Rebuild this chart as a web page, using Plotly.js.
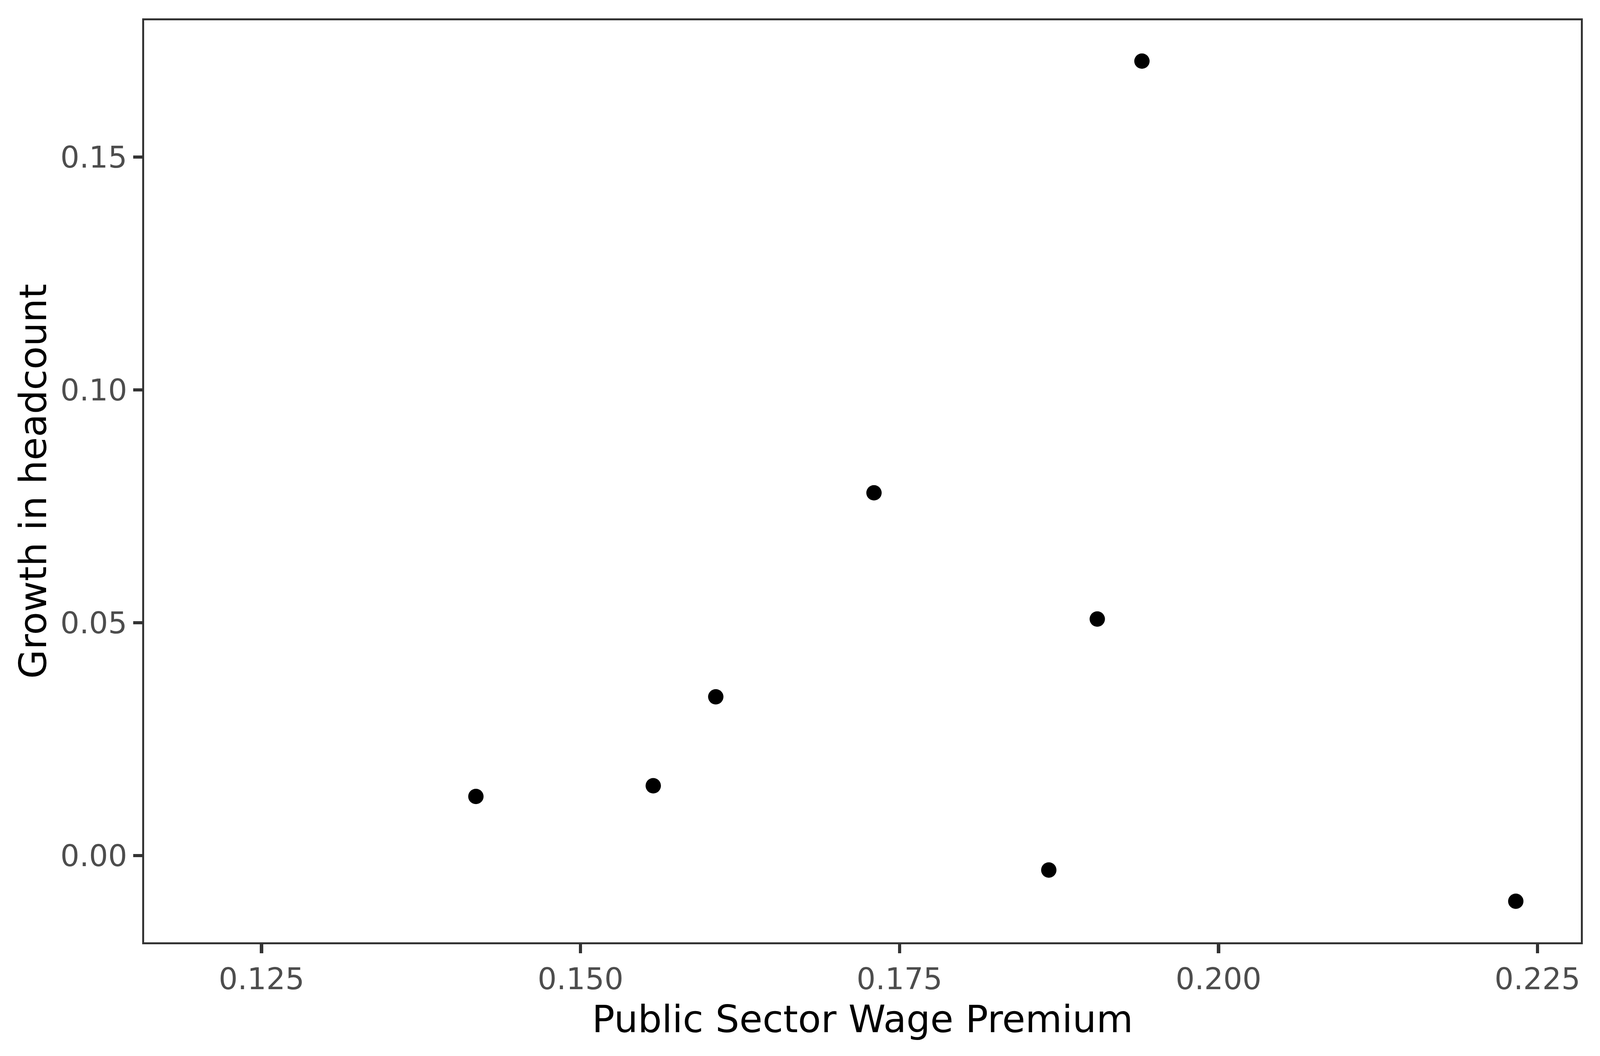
<!DOCTYPE html>
<html>
<head>
<meta charset="utf-8">
<script src="https://cdn.plot.ly/plotly-3.0.1.min.js"></script>
<style>
  html, body { margin: 0; padding: 0; background: #ffffff; overflow: hidden; }
  #chart { width: 100vw; height: 100vh; }
</style>
</head>
<body>
<div id="chart"></div>
<script>
// values
const wagePremium = [0.1418, 0.1557, 0.1606, 0.1730, 0.1867, 0.1905, 0.1940, 0.2233];
const headcountGrowth = [0.0127, 0.0150, 0.0341, 0.0779, -0.0031, 0.0508, 0.1706, -0.0098];

const xTicks = [0.125, 0.150, 0.175, 0.200, 0.225];
const xTickText = ["0.125", "0.150", "0.175", "0.200", "0.225"];
const yTicks = [0.00, 0.05, 0.10, 0.15];
const yTickText = ["0.00", "0.05", "0.10", "0.15"];

// the reference is 4375 x 2703; scale everything to the real window
const W = window.innerWidth || 4375;
const H = window.innerHeight || 2703;
const kx = W / 4375;
const ky = H / 2703;
const k = Math.min(kx, ky);
const px = v => v * k;

const trace = {
    x: wagePremium,
    y: headcountGrowth,
    type: "scatter",
    mode: "markers",
    marker: { color: "#000000", size: px(42), line: { width: 0 } },
    hoverinfo: "x+y",
    showlegend: false
};

const axisStyle = {
    showgrid: false,
    zeroline: false,
    showline: true,
    mirror: true,
    linecolor: "#333333",
    linewidth: px(5),
    ticks: "outside",
    ticklen: px(25),
    tickwidth: px(9),
    tickcolor: "#333333",
    tickfont: { family: "DejaVu Sans", size: px(82), color: "#4d4d4d" }
};

const layout = {
    width: W,
    height: H,
    margin: { l: 394 * kx, r: 52 * kx, t: 52 * ky, b: 291 * ky },
    paper_bgcolor: "#ffffff",
    plot_bgcolor: "#ffffff",
    font: { family: "DejaVu Sans", color: "#000000" },
    xaxis: Object.assign({}, axisStyle, {
        range: [0.1158, 0.2284],
        tickmode: "array",
        tickvals: xTicks,
        ticktext: xTickText,
        ticklabelstandoff: px(-4),
        title: { text: "Public Sector Wage Premium", font: { family: "DejaVu Sans", size: px(103), color: "#000000" }, standoff: px(28) }
    }),
    yaxis: Object.assign({}, axisStyle, {
        range: [-0.01862, 0.17936],
        tickmode: "array",
        tickvals: yTicks,
        ticktext: yTickText,
        ticklabelstandoff: px(20),
        title: { text: "Growth in headcount", font: { family: "DejaVu Sans", size: px(103), color: "#000000" }, standoff: px(6) }
    })
};

Plotly.newPlot("chart", [trace], layout, { staticPlot: true, displayModeBar: false });
</script>
</body>
</html>
